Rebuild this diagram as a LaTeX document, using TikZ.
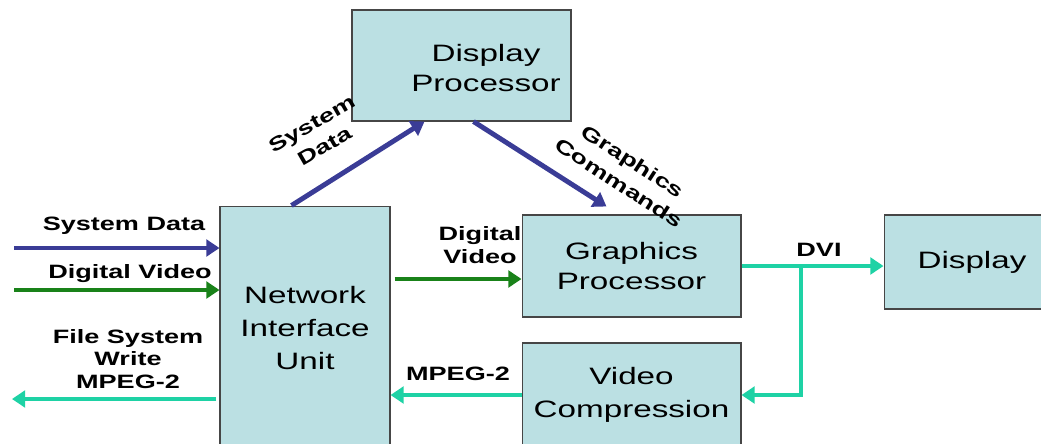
\documentclass[tikz,border=0pt]{standalone}
\usepackage{fontspec}
\setmainfont{Liberation Sans}[FakeStretch=1.4]
\usetikzlibrary{arrows.meta}
\definecolor{boxfill}{RGB}{187,224,227}
\definecolor{boxline}{RGB}{70,70,70}
\definecolor{sdblue}{RGB}{58,60,150}
\definecolor{dvgreen}{RGB}{25,130,25}
\definecolor{mpteal}{RGB}{30,210,165}
\begin{document}
\begin{tikzpicture}[x=0.02cm,y=-0.02cm,
  box/.style={draw=boxline,line width=0.6pt,fill=boxfill,inner sep=0pt,align=center,
    font=\fontsize{13.5pt}{17pt}\selectfont},
  tallbox/.style={box,font=\fontsize{13.5pt}{18.8pt}\selectfont},
  boxtxt/.style={align=center,font=\fontsize{13.5pt}{17pt}\selectfont},
  lbl/.style={align=center,inner sep=0pt,font=\bfseries\fontsize{11pt}{13pt}\selectfont},
  rotlbl/.style={lbl,font=\bfseries\fontsize{11pt}{14.5pt}\selectfont},
  flow/.style={line width=2.8pt,-{Triangle[length=7.5pt,width=9.5pt]}},
  sdflow/.style={flow,draw=sdblue},
  dvflow/.style={flow,draw=dvgreen},
  mpflow/.style={flow,draw=mpteal}]
  \useasboundingbox (0,0) rectangle (1041,443);
  \clip (0,0) rectangle (1041,443);
  % blocks
  \node[box,minimum width=4.38cm,minimum height=2.22cm,
    label={[boxtxt,xshift=0.49cm,yshift=-0.05cm]center:Display\\Processor}] (dp) at (461.5,65.5) {};
  \node[tallbox,minimum width=3.4cm,minimum height=4.88cm] (niu) at (305,328) {Network\\Interface\\Unit};
  \node[box,minimum width=4.38cm,minimum height=2.04cm] (gp) at (631.5,266) {Graphics\\Processor};
  \node[tallbox,minimum width=4.38cm,minimum height=2.08cm] (vc) at (631.5,395) {Video\\Compression};
  \node[box,minimum width=3.52cm,minimum height=1.88cm] (disp) at (972,262) {Display};
  % free ends
  \coordinate (sdin) at (14,248);
  \coordinate (dvin) at (14,290);
  \coordinate (fsout) at (12,399);
  \coordinate (dvibr) at (801,266);
  % connectors
  \draw[sdflow] (sdin) -- (niu.west |- sdin);
  \draw[dvflow] (dvin) -- (niu.west |- dvin);
  \draw[mpflow] ([shift={(-3,0)}]niu.west |- fsout) -- (fsout);
  \draw[sdflow] ([shift={(72,0)}]niu.north west) -- ([shift={(73,0)}]dp.south west);
  \draw[sdflow] ([shift={(122,0)}]dp.south west) -- ([shift={(85,-8)}]gp.north west);
  \draw[dvflow] ([shift={(4,0)}]niu.east |- 0,279) -- (gp.west |- 0,279);
  \draw[mpflow] (gp.east) -- (disp.west |- gp.east);
  \draw[mpflow] (dvibr) |- (vc.east);
  \draw[mpflow] (vc.west) -- (niu.east |- vc.west);
  % labels
  \node[lbl] (sdlbl) at (124,226) {System Data};
  \node[lbl] (dvlbl) at (130,274) {Digital Video};
  \node[lbl] (fslbl) at (128,359) {File System\\Write\\MPEG-2};
  \node[rotlbl,rotate=30] (sdlbl2) at (318,135) {System\\Data};
  \node[rotlbl,rotate=-33] (gclbl) at (626,172) {Graphics\\Commands};
  \node[lbl] (dvlbl2) at (480,245) {Digital\\Video};
  \node[lbl] (dvilbl) at (819,250) {DVI};
  \node[lbl] (mplbl) at (458,374) {MPEG-2};
\end{tikzpicture}
\end{document}
